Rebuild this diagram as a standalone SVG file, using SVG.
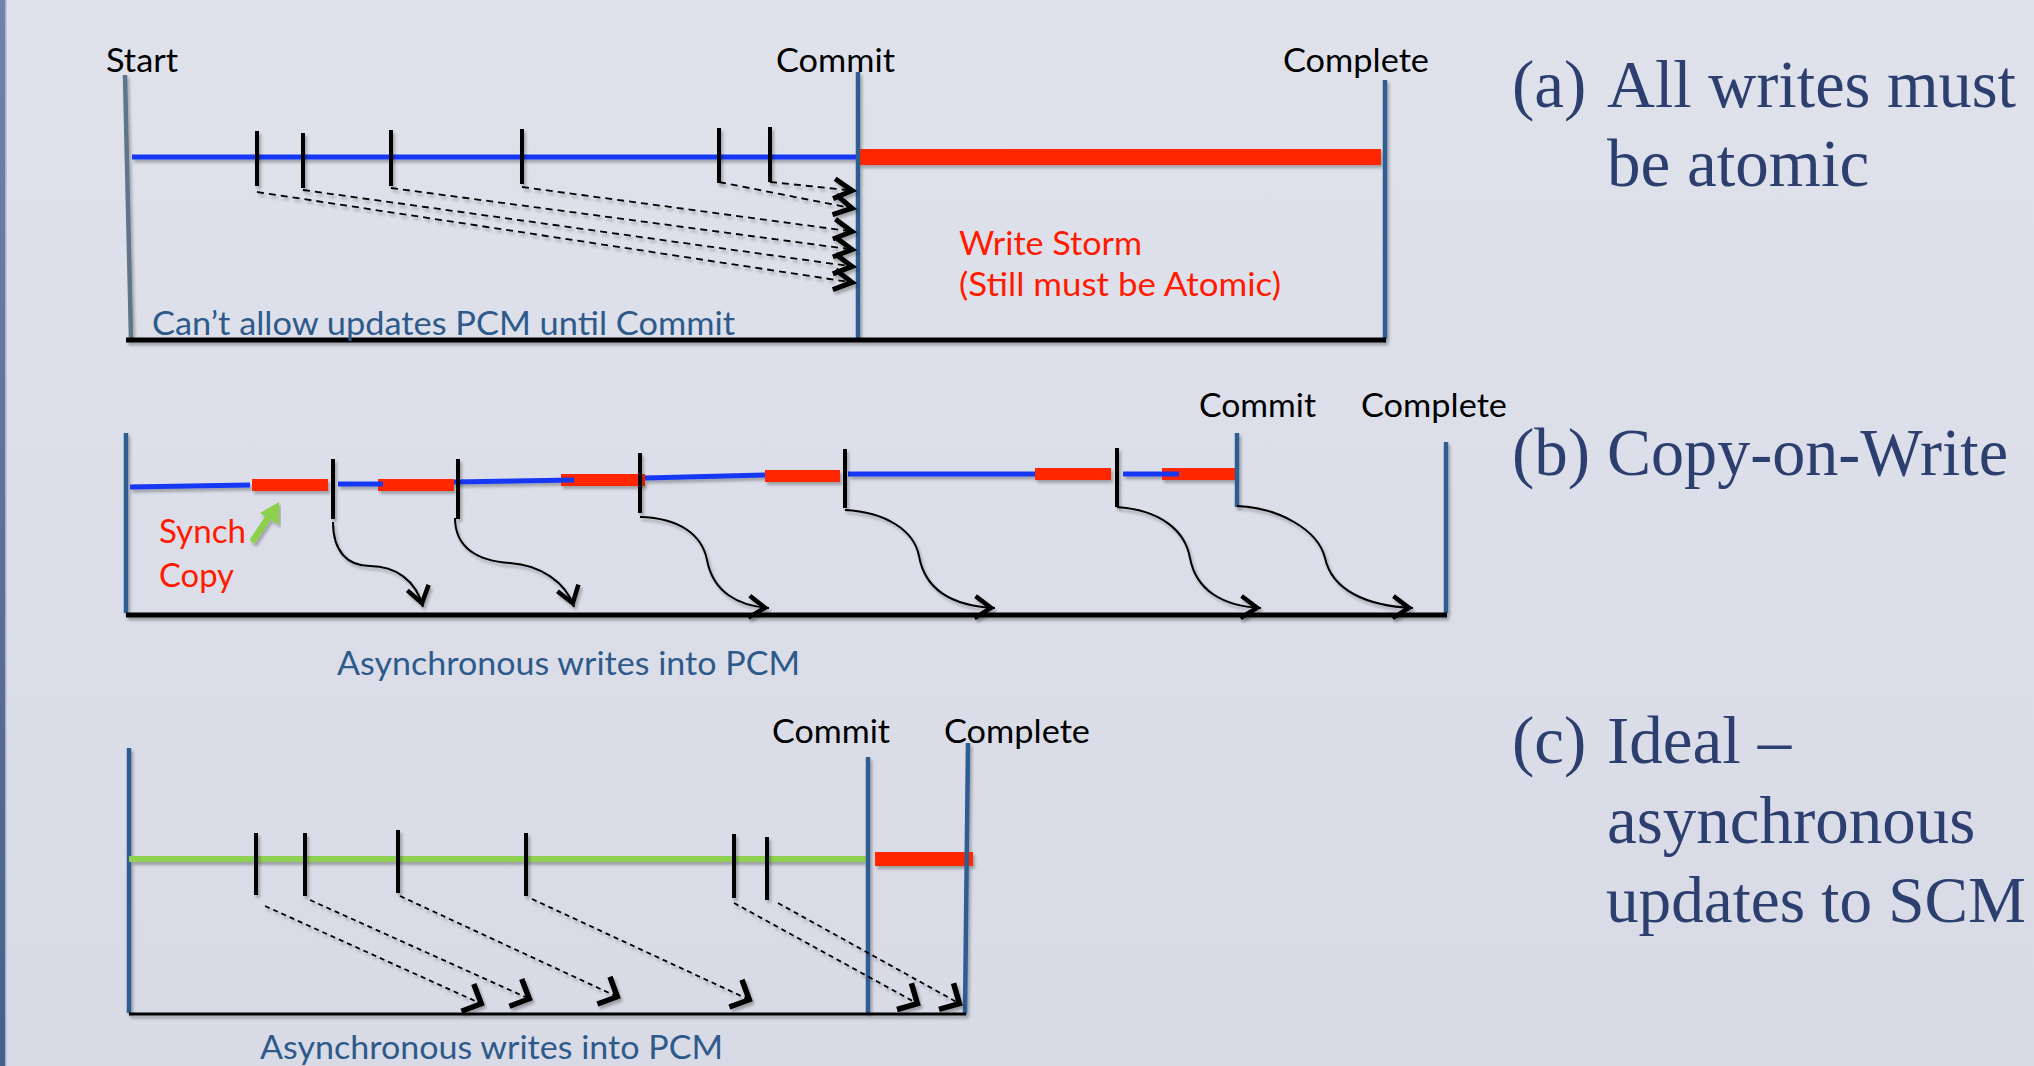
<svg xmlns="http://www.w3.org/2000/svg" width="2034" height="1066" viewBox="0 0 2034 1066">
  <defs>
    <linearGradient id="bg" x1="0" y1="0" x2="0" y2="1">
      <stop offset="0" stop-color="#dfe2eb"/>
      <stop offset="1" stop-color="#d8dbe6"/>
    </linearGradient>
    <linearGradient id="edge" x1="0" y1="0" x2="0" y2="1">
      <stop offset="0" stop-color="#7083ab"/>
      <stop offset="1" stop-color="#4a5e8d"/>
    </linearGradient>
    <filter id="sh" x="-5%" y="-20%" width="110%" height="160%">
      <feDropShadow dx="2" dy="3" stdDeviation="1.6" flood-color="#000" flood-opacity="0.28"/>
    </filter>
    <!-- chevron heads -->
    <marker id="chevA" viewBox="-26 -16 30 32" markerWidth="30" markerHeight="32" refX="0" refY="0" orient="auto" markerUnits="userSpaceOnUse" overflow="visible">
      <path d="M-22,-10 L-4,0 L-22,10" fill="none" stroke="#000" stroke-width="5" stroke-dasharray="none"/>
    </marker>
    <marker id="chevB" viewBox="-26 -16 30 32" markerWidth="30" markerHeight="32" refX="0" refY="0" orient="auto" markerUnits="userSpaceOnUse" overflow="visible">
      <path d="M-20,-11 L-4,0 L-20,11" fill="none" stroke="#000" stroke-width="4.5" stroke-dasharray="none"/>
    </marker>
    <marker id="chevC" viewBox="-26 -20 30 40" markerWidth="30" markerHeight="40" refX="0" refY="0" orient="auto" markerUnits="userSpaceOnUse" overflow="visible">
      <path d="M-18,-15 L-3,0 L-18,15" fill="none" stroke="#000" stroke-width="5.5" stroke-dasharray="none"/>
    </marker>
  </defs>
  <style>
    .lbl { font-family: Lato, "Liberation Sans", sans-serif; font-size: 32px; fill: #000; }
    .red { fill: #ff1a00; }
    .note { fill: #2e5a8b; }
    .cap { font-family: "Liberation Serif", "Times New Roman", serif; font-size: 67px; fill: #2c3f6f; }
    .post { stroke: #2e5d90; stroke-width: 4.5; fill: none; }
    .tick { stroke: #000; stroke-width: 4; fill: none; }
    .base { stroke: #000; stroke-width: 5; fill: none; }
    .blue { stroke: #1638f4; stroke-width: 5; fill: none; }
    .bar { fill: #ff2600; }
    .dash { stroke: #000; stroke-width: 1.8; fill: none; stroke-dasharray: 7 5; }
    .curve { stroke: #000; stroke-width: 2; fill: none; }
  </style>

  <!-- backdrop -->
  <rect x="0" y="0" width="2034" height="1066" fill="url(#bg)"/>
  <rect x="0" y="0" width="5" height="1066" fill="url(#edge)"/>
  <rect x="5" y="0" width="1.5" height="1066" fill="#a8b2cb"/>

  <!-- (a) atomic writes -->
  <g id="panel-a">
    <g id="a-axes" filter="url(#sh)">
      <line x1="125" y1="75" x2="131" y2="338" stroke="#61758a" stroke-width="4.5"/>
      <line class="blue" x1="132" y1="157" x2="858" y2="157"/>
      <rect class="bar" x="860" y="149" width="521" height="16"/>
      <line class="post" x1="858" y1="72" x2="858" y2="338"/>
      <line class="post" x1="1385" y1="80" x2="1385" y2="339"/>
      <line class="base" x1="126" y1="340" x2="1386" y2="340"/>
    </g>
    <g id="a-ticks" filter="url(#sh)">
      <line class="tick" x1="257" y1="131" x2="257" y2="186"/>
      <line class="tick" x1="303" y1="133" x2="303" y2="188"/>
      <line class="tick" x1="391" y1="130" x2="391" y2="186"/>
      <line class="tick" x1="522" y1="129" x2="522" y2="184"/>
      <line class="tick" x1="719" y1="128" x2="719" y2="183"/>
      <line class="tick" x1="770" y1="127" x2="770" y2="182"/>
    </g>
    <g id="a-labels">
      <text class="lbl" x="106" y="72" textLength="72" lengthAdjust="spacingAndGlyphs">Start</text>
      <text class="lbl" x="776" y="72" textLength="119" lengthAdjust="spacingAndGlyphs">Commit</text>
      <text class="lbl" x="1283" y="72" textLength="146" lengthAdjust="spacingAndGlyphs">Complete</text>
      <text class="lbl red" x="959" y="255" textLength="183" lengthAdjust="spacingAndGlyphs">Write Storm</text>
      <text class="lbl red" x="959" y="296" textLength="322" lengthAdjust="spacingAndGlyphs">(Still must be Atomic)</text>
      <text class="lbl note" x="152" y="335" textLength="583" lengthAdjust="spacingAndGlyphs">Can’t allow updates PCM until Commit</text>
    </g>
  </g>

  <!-- (b) copy-on-write -->
  <g id="panel-b">
    <g id="b-axes" filter="url(#sh)">
      <line class="post" x1="126" y1="433" x2="126" y2="613"/>
      <rect class="bar" x="252" y="479" width="76" height="12"/>
      <rect class="bar" x="378" y="479" width="76" height="12"/>
      <rect class="bar" x="561" y="474" width="84" height="12"/>
      <rect class="bar" x="765" y="470" width="75" height="12"/>
      <rect class="bar" x="1035" y="468" width="76" height="12"/>
      <rect class="bar" x="1162" y="468" width="75" height="12"/>
      <line class="blue" x1="130" y1="487" x2="250" y2="485"/>
      <line class="blue" x1="338" y1="484" x2="383" y2="484"/>
      <line class="blue" x1="454" y1="482" x2="574" y2="480"/>
      <line class="blue" x1="645" y1="478" x2="765" y2="475"/>
      <line class="blue" x1="848" y1="474" x2="1035" y2="474"/>
      <line class="blue" x1="1123" y1="474" x2="1179" y2="474"/>
      <line class="post" x1="1237" y1="433" x2="1237" y2="507"/>
      <line class="post" x1="1446" y1="442" x2="1446" y2="613"/>
      <line class="base" x1="126" y1="615" x2="1447" y2="615"/>
    </g>
    <g id="b-ticks" filter="url(#sh)">
      <line class="tick" x1="333" y1="459" x2="333" y2="519"/>
      <line class="tick" x1="458" y1="459" x2="458" y2="519"/>
      <line class="tick" x1="640" y1="453" x2="640" y2="513"/>
      <line class="tick" x1="845" y1="449" x2="845" y2="508"/>
      <line class="tick" x1="1117" y1="448" x2="1117" y2="507"/>
    </g>
    <g id="b-synch" filter="url(#sh)">
      <line x1="252" y1="542" x2="268" y2="518" stroke="#8dd04c" stroke-width="6.5"/>
      <polygon points="279,502 279,525 260,513" fill="#8dd04c"/>
    </g>
    <g id="b-labels">
      <text class="lbl red" x="159" y="543" textLength="87" lengthAdjust="spacingAndGlyphs">Synch</text>
      <text class="lbl red" x="159" y="587" textLength="75" lengthAdjust="spacingAndGlyphs">Copy</text>
      <text class="lbl" x="1199" y="417" textLength="117" lengthAdjust="spacingAndGlyphs">Commit</text>
      <text class="lbl" x="1361" y="417" textLength="146" lengthAdjust="spacingAndGlyphs">Complete</text>
      <text class="lbl note" x="337" y="675" textLength="463" lengthAdjust="spacingAndGlyphs">Asynchronous writes into PCM</text>
    </g>
  </g>

  <!-- (c) ideal -->
  <g id="panel-c">
    <g id="c-axes" filter="url(#sh)">
      <line class="post" x1="129" y1="748" x2="129" y2="1013"/>
      <line x1="129" y1="859" x2="870" y2="859" stroke="#8fd052" stroke-width="6"/>
      <rect class="bar" x="875" y="852" width="98" height="14"/>
      <line class="post" x1="868" y1="757" x2="868" y2="1015"/>
      <line class="post" x1="968" y1="743" x2="965" y2="1014"/>
      <line x1="129" y1="1014" x2="966" y2="1014" stroke="#000" stroke-width="3"/>
    </g>
    <g id="c-ticks" filter="url(#sh)">
      <line class="tick" x1="256" y1="833" x2="256" y2="895"/>
      <line class="tick" x1="305" y1="833" x2="305" y2="896"/>
      <line class="tick" x1="398" y1="830" x2="398" y2="893"/>
      <line class="tick" x1="526" y1="833" x2="526" y2="896"/>
      <line class="tick" x1="734" y1="834" x2="734" y2="898"/>
      <line class="tick" x1="767" y1="837" x2="767" y2="900"/>
    </g>
    <g id="c-labels">
      <text class="lbl" x="772" y="743" textLength="118" lengthAdjust="spacingAndGlyphs">Commit</text>
      <text class="lbl" x="944" y="743" textLength="146" lengthAdjust="spacingAndGlyphs">Complete</text>
      <text class="lbl note" x="260" y="1059" textLength="463" lengthAdjust="spacingAndGlyphs">Asynchronous writes into PCM</text>
    </g>
  </g>

  <!-- write arrows -->
  <g id="connectors" filter="url(#sh)">
    <!-- (a) deferred writes, all landing at commit -->
    <line class="dash" x1="257" y1="192" x2="856" y2="283" marker-end="url(#chevA)"/>
    <line class="dash" x1="303" y1="190" x2="856" y2="267" marker-end="url(#chevA)"/>
    <line class="dash" x1="391" y1="188" x2="856" y2="250" marker-end="url(#chevA)"/>
    <line class="dash" x1="522" y1="187" x2="856" y2="232" marker-end="url(#chevA)"/>
    <line class="dash" x1="719" y1="182" x2="856" y2="209" marker-end="url(#chevA)"/>
    <line class="dash" x1="770" y1="182" x2="856" y2="191" marker-end="url(#chevA)"/>
    <!-- (b) asynchronous copies -->
    <path class="curve" d="M333,522 C333,552 348,566 370,566 C395,566 416,580 423,607" marker-end="url(#chevB)"/>
    <path class="curve" d="M455,518 C455,548 478,561 510,563 C540,565 566,582 574,607" marker-end="url(#chevB)"/>
    <path class="curve" d="M640,517 C680,518 702,535 707,560 C713,592 738,606 769,608" marker-end="url(#chevB)"/>
    <path class="curve" d="M845,510 C885,512 914,530 919,556 C925,590 952,606 995,608" marker-end="url(#chevB)"/>
    <path class="curve" d="M1117,507 C1160,510 1185,530 1190,558 C1196,590 1222,606 1261,608" marker-end="url(#chevB)"/>
    <path class="curve" d="M1237,506 C1280,508 1318,530 1325,558 C1332,590 1366,606 1413,608" marker-end="url(#chevB)"/>
    <!-- (c) asynchronous writes -->
    <line class="dash" x1="265" y1="906" x2="484" y2="1005" marker-end="url(#chevC)" style="stroke-dasharray:5 4"/>
    <line class="dash" x1="310" y1="900" x2="532" y2="1000" marker-end="url(#chevC)" style="stroke-dasharray:5 4"/>
    <line class="dash" x1="400" y1="896" x2="620" y2="998" marker-end="url(#chevC)" style="stroke-dasharray:5 4"/>
    <line class="dash" x1="532" y1="899" x2="752" y2="1001" marker-end="url(#chevC)" style="stroke-dasharray:5 4"/>
    <line class="dash" x1="734" y1="903" x2="920" y2="1005" marker-end="url(#chevC)" style="stroke-dasharray:5 4"/>
    <line class="dash" x1="778" y1="903" x2="962" y2="1005" marker-end="url(#chevC)" style="stroke-dasharray:5 4"/>
  </g>

  <!-- captions -->
  <g id="captions">
    <text class="cap" x="1512" y="107">(a)</text>
    <text class="cap" x="1607" y="107" textLength="409" lengthAdjust="spacingAndGlyphs">All writes must</text>
    <text class="cap" x="1607" y="186">be atomic</text>
    <text class="cap" x="1512" y="475">(b)</text>
    <text class="cap" x="1607" y="475" textLength="401" lengthAdjust="spacingAndGlyphs">Copy-on-Write</text>
    <text class="cap" x="1512" y="763">(c)</text>
    <text class="cap" x="1607" y="763">Ideal –</text>
    <text class="cap" x="1607" y="843">asynchronous</text>
    <text class="cap" x="1606" y="922" style="font-size:65px" textLength="420" lengthAdjust="spacingAndGlyphs">updates to SCM</text>
  </g>
</svg>
